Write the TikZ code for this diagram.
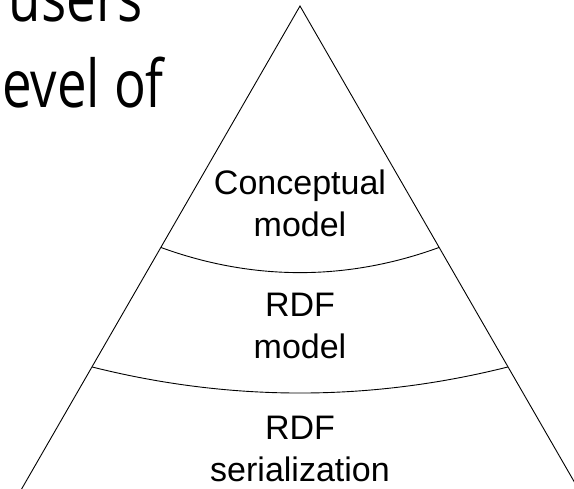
\documentclass[tikz,border=0pt]{standalone}
\usepackage{fontspec}
\setmainfont{Liberation Sans}
\newfontfamily\bigfont{Open Sans}
\begin{document}
\begin{tikzpicture}[x=1pt,y=-1pt,
  edge/.style={line width=0.9pt, draw=black},
  layerlabel/.style={align=center, font=\fontsize{34}{42}\selectfont, inner sep=0pt, anchor=base},
  bigtext/.style={font=\bigfont\fontsize{66}{80}\selectfont, inner sep=0pt, anchor=base east, xscale=0.8}]
\useasboundingbox (0,0) rectangle (574,489);
\fill[white] (0,0) rectangle (574,489);
\clip (0,0) rectangle (574,489);
% triangle
\coordinate (apex) at (300,6);
\coordinate (bl) at (17,497);
\coordinate (br) at (583,497);
\draw[edge, line join=miter] (bl) -- (apex) -- (br);
% separating arcs
\coordinate (u1) at (161,247.5);
\coordinate (u2) at (439,247.5);
\coordinate (l1) at (92.2,367);
\coordinate (l2) at (507.8,367);
\draw[edge] (u1) .. controls (253,281) and (347,281) .. (u2);
\draw[edge] (l1) .. controls (230.5,401.7) and (369.5,401.7) .. (l2);
% labels (anchor = baseline of last line)
\node[layerlabel] (concept) at (300,237) {Conceptual\\model};
\node[layerlabel] (rdfmodel) at (300,359) {RDF\\model};
\node[layerlabel] (rdfser) at (300,482) {RDF\\serialization};
% clipped slide text
\node[bigtext] (users) at (143,22) {users};
\node[bigtext] (levelof) at (164,108) {evel of};
\end{tikzpicture}
\end{document}
